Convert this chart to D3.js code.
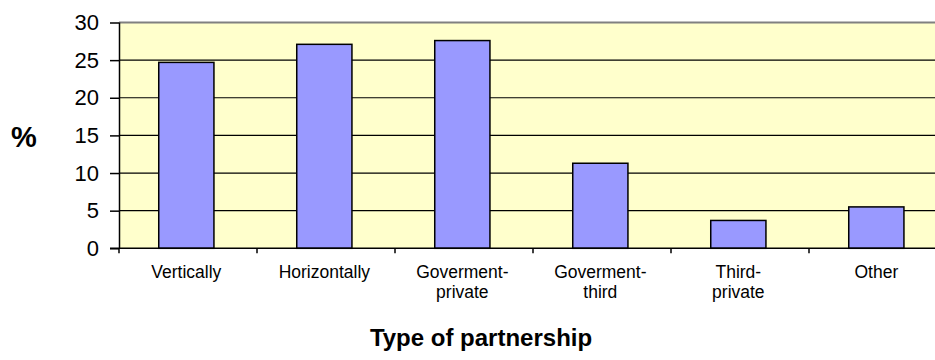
<!DOCTYPE html>
<html>
<head>
<meta charset="utf-8">
<script src="https://cdn.jsdelivr.net/npm/d3@7/dist/d3.min.js"></script>
<style>
  html, body { margin: 0; padding: 0; background: #ffffff; }
  svg { display: block; font-family: Arial, "Liberation Sans", sans-serif; }
</style>
</head>
<body>
<svg id="chart" width="935" height="360"></svg>
<script>
// Share of partnerships by type (%)
const categories = [
  "Vertically",
  "Horizontally",
  "Goverment-\nprivate",
  "Goverment-\nthird",
  "Third-\nprivate",
  "Other"
];
const values = [24.7, 27.1, 27.6, 11.3, 3.7, 5.5];
const yTicks = [0, 5, 10, 15, 20, 25, 30];
const yLabel = "%";
const xLabel = "Type of partnership";

const svg = d3.select("#chart");

// Plot area (the right edge runs past the visible canvas)
const plot = { left: 119, right: 947, top: 22.5, bottom: 248.3 };

const x = d3.scaleBand()
  .domain(categories)
  .range([plot.left, plot.right])
  .paddingInner(0.6)
  .paddingOuter(0.3)
  .align(0.48);

const y = d3.scaleLinear()
  .domain([0, 30])
  .range([plot.bottom, plot.top]);

// Pale yellow plot background
svg.append("rect")
  .attr("x", plot.left)
  .attr("y", plot.top)
  .attr("width", plot.right - plot.left)
  .attr("height", plot.bottom - plot.top)
  .attr("fill", "#FFFFCC");

// Horizontal gridlines
svg.append("g")
  .selectAll("line")
  .data(yTicks.filter(d => d > 0 && d < 30))
  .join("line")
  .attr("x1", plot.left)
  .attr("x2", plot.right)
  .attr("y1", d => y(d))
  .attr("y2", d => y(d))
  .attr("stroke", "#000")
  .attr("stroke-width", 1.2);

// Top border of the plot area
svg.append("line")
  .attr("x1", plot.left)
  .attr("x2", plot.right)
  .attr("y1", y(30))
  .attr("y2", y(30))
  .attr("stroke", "#808080")
  .attr("stroke-width", 2);

// Bars
svg.append("g")
  .selectAll("rect")
  .data(values)
  .join("rect")
  .attr("x", (d, i) => x(categories[i]))
  .attr("y", d => y(d))
  .attr("width", x.bandwidth())
  .attr("height", d => y(0) - y(d))
  .attr("fill", "#9999FF")
  .attr("stroke", "#000")
  .attr("stroke-width", 1.5);

// Y axis
const yAxis = svg.append("g")
  .attr("transform", `translate(${plot.left},0)`)
  .call(d3.axisLeft(y).tickValues(yTicks).tickSize(9).tickPadding(11))
  .call(g => g.select(".domain").attr("stroke", "#000").attr("stroke-width", 1.5)
    .attr("d", `M0.5,${plot.top}V${plot.bottom}`));
yAxis.selectAll(".tick line").attr("stroke", "#000").attr("stroke-width", 1.5);
yAxis.selectAll(".tick text")
  .attr("font-size", 22)
  .attr("font-family", "Arial, 'Liberation Sans', sans-serif")
  .attr("fill", "#000");

// X axis line
svg.append("line")
  .attr("x1", plot.left - 9)
  .attr("x2", plot.right)
  .attr("y1", plot.bottom)
  .attr("y2", plot.bottom)
  .attr("stroke", "#000")
  .attr("stroke-width", 1.5);

// Tick marks between categories
const boundaries = d3.range(categories.length + 1).map(i => plot.left + i * x.step());
svg.append("g")
  .selectAll("line")
  .data(boundaries)
  .join("line")
  .attr("x1", d => d)
  .attr("x2", d => d)
  .attr("y1", plot.bottom)
  .attr("y2", plot.bottom + 5)
  .attr("stroke", "#000")
  .attr("stroke-width", 1.5);

// Category labels (multi-line)
const labels = svg.append("g")
  .attr("font-size", 17.5)
  .attr("text-anchor", "middle")
  .attr("fill", "#000");
categories.forEach(c => {
  const cx = x(c) + x.bandwidth() / 2;
  const t = labels.append("text")
    .attr("x", cx)
    .attr("y", 277.5);
  c.split("\n").forEach((line, i) => {
    t.append("tspan")
      .attr("x", cx)
      .attr("dy", i === 0 ? 0 : 20)
      .text(line);
  });
});

// Axis titles
svg.append("text")
  .attr("x", 24)
  .attr("y", 147)
  .attr("text-anchor", "middle")
  .attr("font-size", 29)
  .attr("font-weight", "bold")
  .attr("fill", "#000")
  .text(yLabel);

svg.append("text")
  .attr("x", 481)
  .attr("y", 346)
  .attr("text-anchor", "middle")
  .attr("font-size", 24)
  .attr("font-weight", "bold")
  .attr("fill", "#000")
  .text(xLabel);
</script>
</body>
</html>
